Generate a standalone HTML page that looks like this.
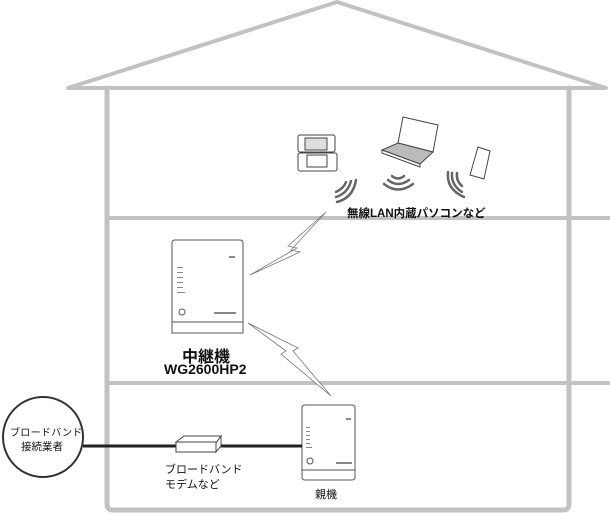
<!DOCTYPE html>
<html><head><meta charset="utf-8"><style>
body{margin:0;background:#fff;width:610px;height:514px;overflow:hidden;position:relative;font-family:"Liberation Sans","Noto Sans CJK JP",sans-serif}
.t{position:absolute;color:#111;white-space:nowrap}
</style></head><body>
<svg width="610" height="514" style="position:absolute;left:0;top:0">
<g fill="none" stroke="#c2c2c2" stroke-linecap="round" stroke-linejoin="round">
<path d="M68 88 L337 2 L606 88 Z" stroke-width="4"/>
<path d="M107 88 V504 Q107 510 113 510 H563 Q569 510 569 504 V88" stroke-width="5"/>
<line x1="107" y1="218" x2="610" y2="218" stroke-width="4" stroke-linecap="butt"/>
<line x1="107" y1="383" x2="610" y2="383" stroke-width="4" stroke-linecap="butt"/>
</g>
<g fill="#fff" stroke="#777" stroke-width="0.8">
<path d="M326 212 L288 246 L297 248 L250 275 L300 252 L291 250 Z"/>
<path d="M248 323 L286 351 L281 354 L331 396 L293 351 L298 348 Z"/>
</g>
<g fill="#fff" stroke="#444" stroke-width="1">
<rect x="298" y="135" width="37" height="17" rx="2"/>
<rect x="305" y="138" width="22" height="12" fill="#ddd"/>
<rect x="298" y="153" width="39" height="18" rx="2"/>
<rect x="307" y="155" width="20" height="12"/>
</g>
<g fill="#fff" stroke="#444" stroke-width="1">
<path d="M403 117 L438 125 L433 152 L398 143 Z"/>
<path d="M398 143 L433 152 L420 164 L382 150 Z" fill="#bbb"/>
<path d="M382 150 L420 164 L420 167 L382 153 Z"/>
</g>
<g fill="#fff" stroke="#444" stroke-width="1">
<path d="M478 147 L490 151 L484 179 L470 175 Z"/>
</g>
<g fill="none" stroke="#666" stroke-width="2.5" stroke-linecap="round">
<path d="M336 192 Q344 188 346 182"/><path d="M336 197 Q348 193 351 181"/><path d="M337 202 Q353 198 356 180"/>
<path d="M392 176 Q398 181 404 176"/><path d="M388 180 Q398 188 409 180"/><path d="M384 184 Q398 195 413 184"/>
<path d="M457 173 Q456 181 462 186"/><path d="M452 173 Q451 185 462 192"/><path d="M448 172 Q446 189 464 197"/>
</g>
<g fill="#fff" stroke="#555" stroke-width="1">
<path d="M175 240 H240 Q243 240 243 243 V333 H172 V243 Q172 240 175 240 Z"/>
<line x1="172" y1="322" x2="243" y2="322"/>
<circle cx="182" cy="312" r="3"/>
</g>
<g fill="#888"><rect x="177" y="267" width="6" height="1"/><rect x="177" y="272" width="6" height="1"/><rect x="177" y="277" width="6" height="1"/><rect x="177" y="282" width="6" height="1"/><rect x="177" y="287" width="6" height="1"/><rect x="177" y="292" width="8" height="1"/><rect x="229" y="256" width="6" height="2"/><rect x="214" y="312" width="22" height="2"/></g>
<g fill="#fff" stroke="#555" stroke-width="1">
<path d="M305 405 H352 Q355 405 355 408 V477 Q355 480 352 480 H305 Q302 480 302 477 V408 Q302 405 305 405 Z"/>
<line x1="302" y1="470" x2="355" y2="470"/>
<circle cx="310" cy="461" r="3"/>
</g>
<g fill="#888"><rect x="306" y="427" width="4" height="1"/><rect x="306" y="431" width="4" height="1"/><rect x="306" y="435" width="4" height="1"/><rect x="306" y="439" width="4" height="1"/><rect x="306" y="443" width="4" height="1"/><rect x="306" y="447" width="6" height="1"/><rect x="346" y="418" width="5" height="2"/><rect x="336" y="462" width="16" height="2"/></g>
<line x1="83" y1="446" x2="302" y2="446" stroke="#222" stroke-width="3"/>
<circle cx="43" cy="437" r="40" fill="#fff" stroke="#333" stroke-width="2"/>
<g fill="#fff" stroke="#444" stroke-width="1">
<path d="M176 442 L184 436 L221 436 L216 443 Z"/>
<path d="M176 442 H216 V452 H176 Z"/>
<path d="M216 443 L221 436 V446 L216 452 Z"/>
</g>
</svg>
<div class="t" style="left:347px;top:205px;font-size:11.5px;font-weight:bold">無線LAN内蔵パソコンなど</div>
<div class="t" style="left:182px;top:343px;font-size:16px;font-weight:bold">中継機</div>
<div class="t" style="left:164px;top:361px;font-size:14px;font-weight:bold">WG2600HP2</div>
<div class="t" style="left:315px;top:486px;font-size:11px">親機</div>
<div class="t" style="left:10px;top:424px;font-size:10px;letter-spacing:0.3px">ブロードバンド</div>
<div class="t" style="left:21px;top:439px;font-size:10.5px">接続業者</div>
<div class="t" style="left:165px;top:461px;font-size:11px">ブロードバンド</div>
<div class="t" style="left:165px;top:476px;font-size:11px">モデムなど</div>
</body></html>
